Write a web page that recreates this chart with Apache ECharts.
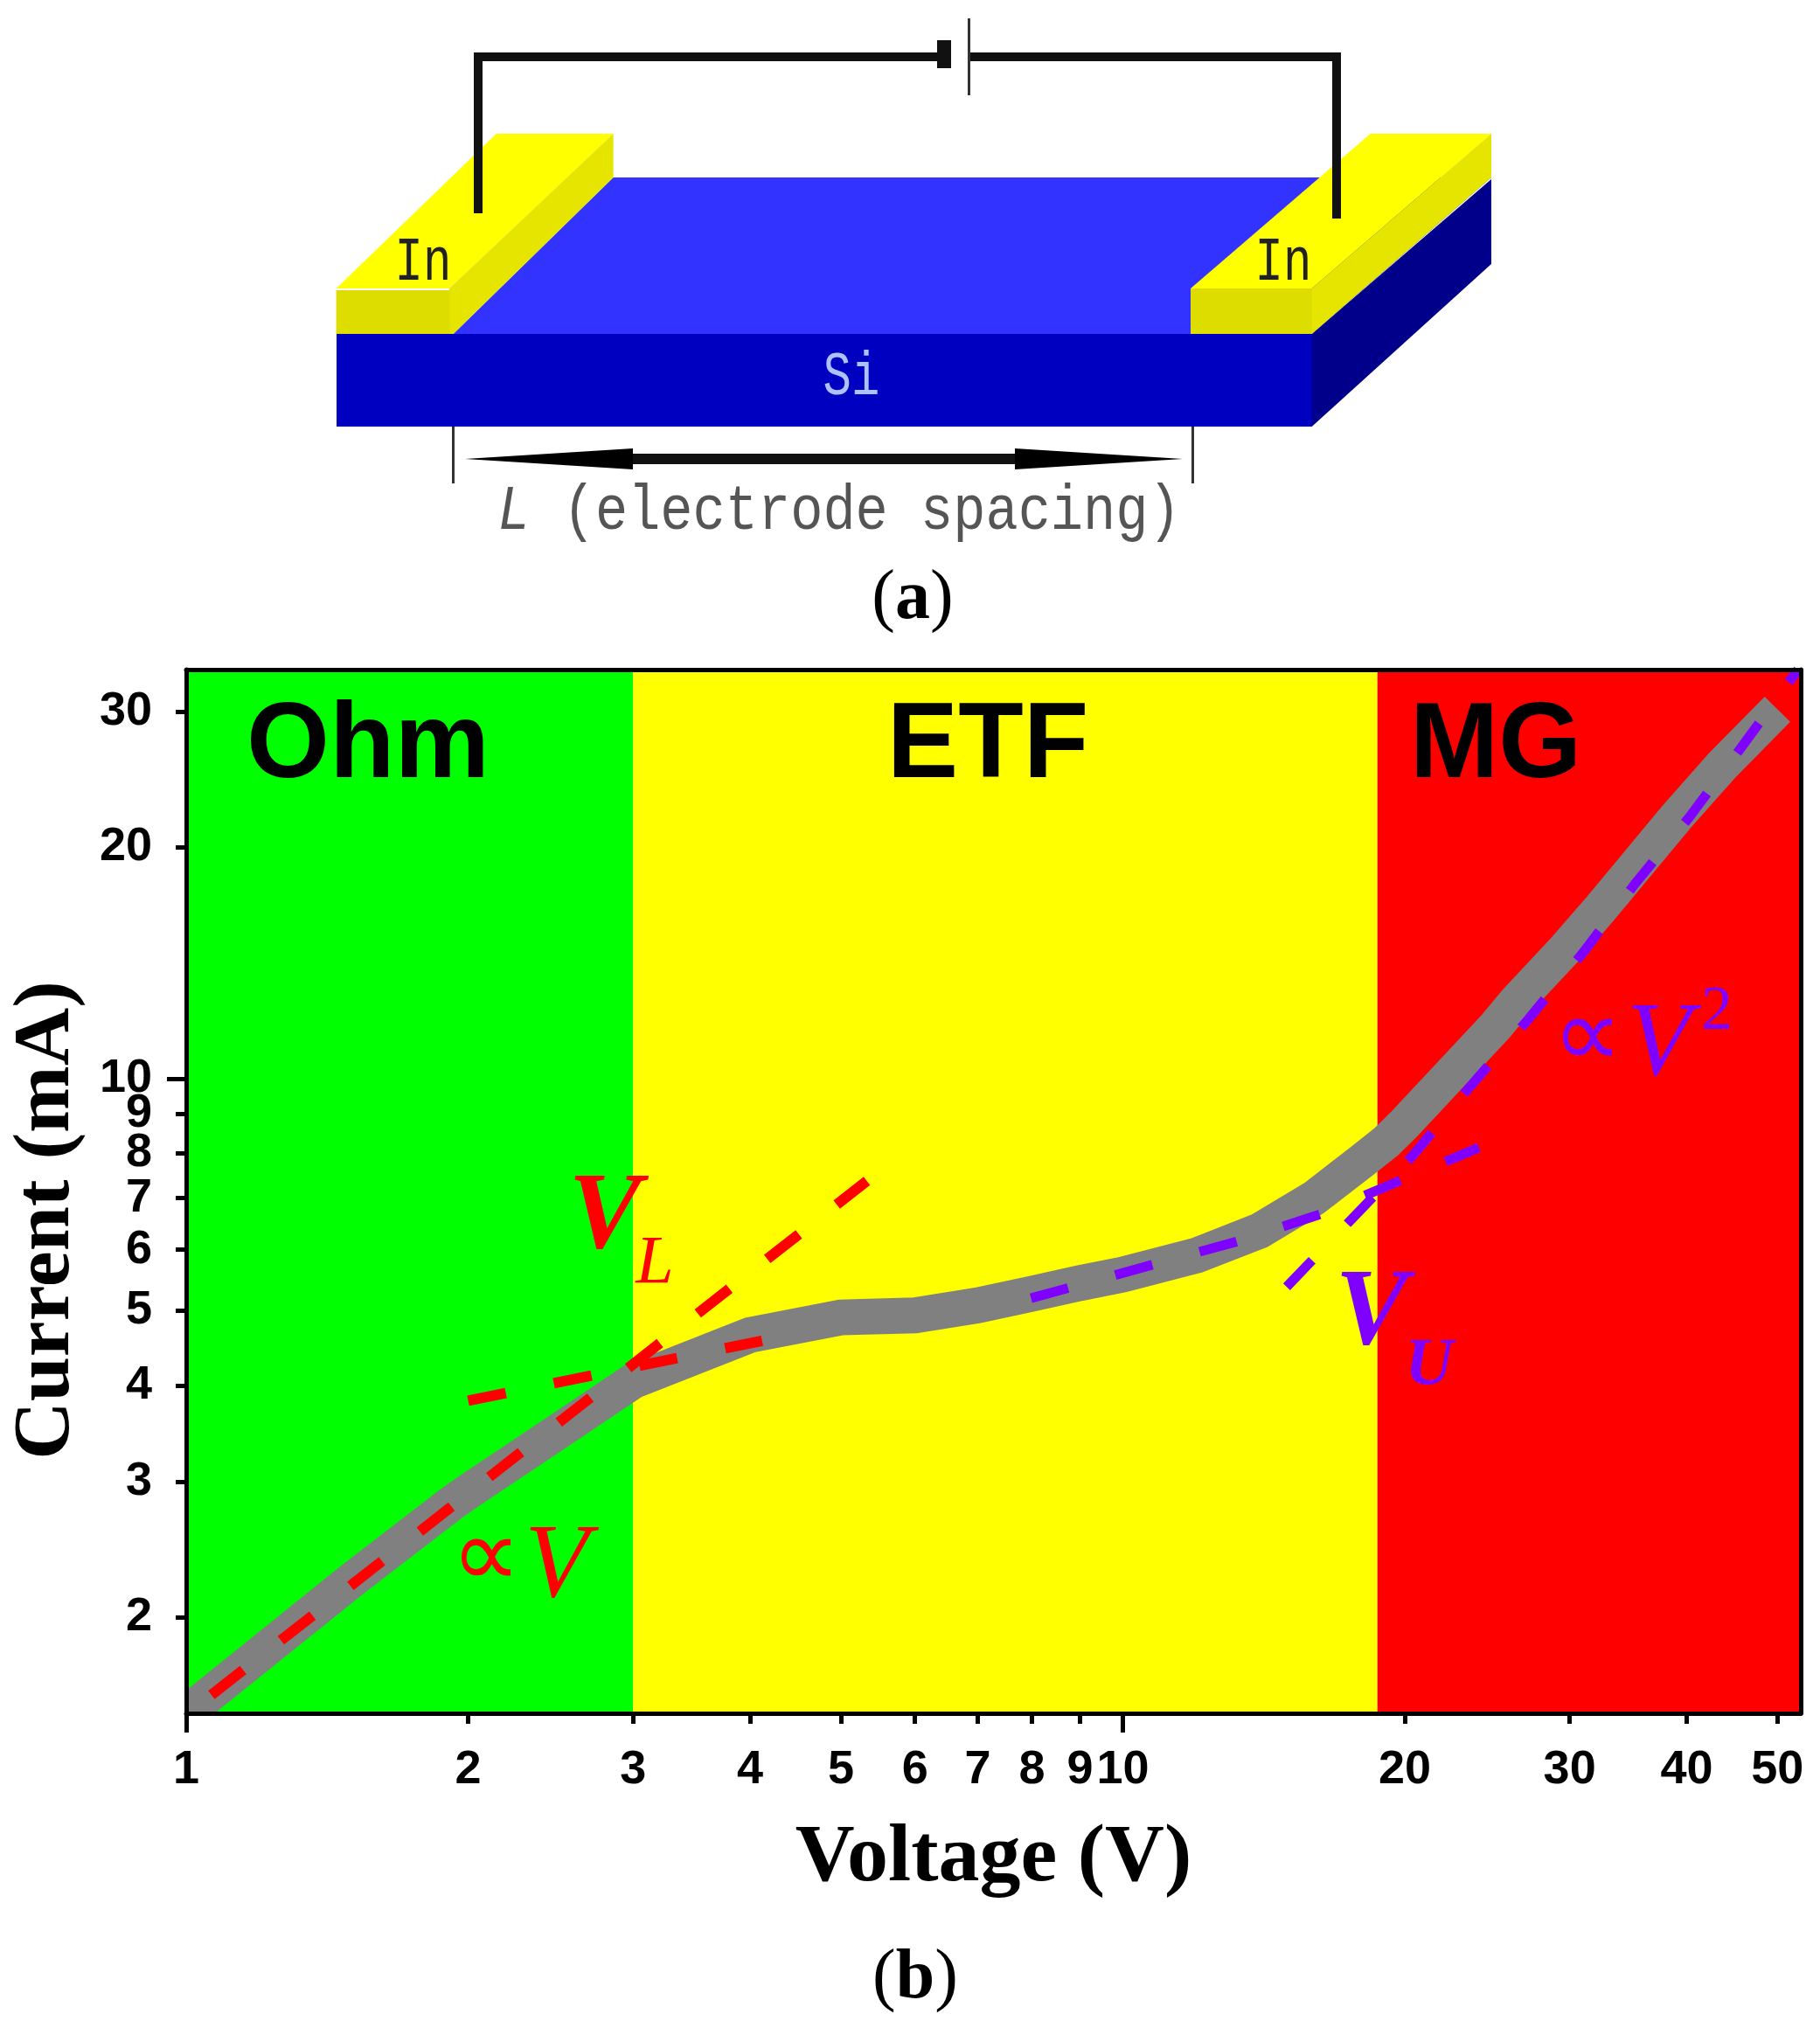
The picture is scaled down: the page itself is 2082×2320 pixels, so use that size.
<!DOCTYPE html>
<html><head><meta charset="utf-8">
<style>html,body{margin:0;padding:0;background:#fff}#c{width:2082px;height:2320px}</style>
<script src="https://cdn.jsdelivr.net/npm/echarts@6/dist/echarts.min.js"></script>
</head><body><div id="c"></div>
<script>
const xTickValues=[1,2,3,4,5,6,7,8,9,10,20,30,40,50];
const yTickValues=[2,3,4,5,6,7,8,9,10,20,30];
const xMajor=[1,10];
const yMajor=[10];
const xRange=[1,52.95];
const yRange=[1.5,34];
const regionBounds=[1,3,18.7,52.95];
const regionNames=['Ohm','ETF','MG'];
const regionColors=['#00FF00','#FFFF00','#FF0000'];
const measured=[[0.9,1.35],[1,1.5],[1.5,2.23],[1.92,2.81],[2,2.91],[2.5,3.49],[3,4.05],[4,4.65],[5,4.9],[6,4.93],[7,5.08],[8,5.26],[9,5.43],[10,5.57],[12,5.9],[14,6.35],[16,7.0],[18,7.82],[19.1,8.28],[20,8.75],[25,11.7],[26.3,12.6],[29.7,14.76],[32.3,16.6],[38.9,21.8],[43.6,25.5],[50,30.2]];
const ohmFit=[[1.064,1.585],[5.33,7.37]];
const etfFitLow=[[2,3.82],[4.12,4.57]];
const etfFitHigh=[[7.98,5.19],[13.25,6.15],[16.3,6.68],[19.9,7.4],[24,8.14]];
const squareFit=[[14.96,5.37],[20.4,7.95],[23.4,9.72],[27.1,11.95],[31.1,14.65],[35.2,17.9],[40.3,21.9],[45.5,26.7],[52.6,34]];

const serif='"Liberation Serif","Times New Roman",serif';
const sans='"Liberation Sans",Arial,sans-serif';
const mono='"Liberation Mono",monospace';
const RED='#FF0000',PURPLE='#8000FF';

function poly(points,fill){return {type:'polygon',silent:true,shape:{points},style:{fill}};}
function rect(x,y,w,h,fill){return {type:'rect',silent:true,shape:{x,y,width:w,height:h},style:{fill}};}
function label(text,x,y,font,fill,extra){return Object.assign({type:'text',silent:true,x,y,z:100,style:{text,font,fill,align:'center',verticalAlign:'middle'}},extra||{});}

const diagram=[
  rect(385,382,1116,106,'#0000C0'),
  poly([[1500.7,382],[1706,205],[1706,302],[1500.7,488]],'#00008B'),
  poly([[518.6,382],[701.6,203],[1706,203],[1500.7,382]],'#3333FF'),
  poly([[384.6,330],[567.7,153],[701.6,153],[514,330]],'#FFFF00'),
  poly([[514,330],[701.6,153],[701.6,203],[518.6,382],[514,382]],'#E5E500'),
  rect(384.6,332,130,50,'#DDDD00'),
  poly([[1362,330],[1567.7,153],[1706,153],[1500.7,330]],'#FFFF00'),
  poly([[1500.7,330],[1706,153],[1706,203],[1500.7,382]],'#E5E500'),
  rect(1362,330,139,52,'#DDDD00'),
  rect(542,60,538,10,'#111'),
  rect(1108,60,426,10,'#111'),
  rect(542,60,10,184,'#111'),
  rect(1524,60,10,190,'#111'),
  rect(1072,46,16,32,'#111'),
  rect(1107,21,3,88,'#333'),
  rect(517,488,3,65,'#333'),
  rect(1363,488,3,65,'#333'),
  rect(724,519,437,12,'#111'),
  poly([[532,525],[724,513],[724,537]],'#000'),
  poly([[1353,525],[1161,513],[1161,537]],'#000'),
  label('In',484,301,'54px '+mono,'#222',{scaleY:1.3}),
  label('In',1468,301,'54px '+mono,'#222',{scaleY:1.3}),
  label('Si',974,432,'54px '+mono,'#AFC0FF',{scaleY:1.3}),
  {type:'text',silent:true,x:960,y:586,z:100,scaleY:1.15,style:{text:'{i|L} (electrode spacing)',font:'62px '+mono,fill:'#555',align:'center',verticalAlign:'middle',rich:{i:{font:'italic 62px '+mono,fill:'#555'}}}}
];
const captions=[
  {type:'text',silent:true,x:1044,y:686,style:{text:'{p|(}{b|a}{p|)}',align:'center',verticalAlign:'middle',rich:{p:{font:'80px '+serif,fill:'#000'},b:{font:'bold 80px '+serif,fill:'#000'}}}},
  {type:'text',silent:true,x:1047,y:2264,style:{text:'{p|(}{b|b}{p|)}',align:'center',verticalAlign:'middle',rich:{p:{font:'80px '+serif,fill:'#000'},b:{font:'bold 80px '+serif,fill:'#000'}}}}
];
const plotText=[
  label(regionNames[0],421,855,'bold 122px '+sans,'#000'),
  label(regionNames[1],1130,855,'bold 122px '+sans,'#000'),
  label(regionNames[2],1711,855,'bold 122px '+sans,'#000'),
  label('V',692,1395,'italic bold 125px '+serif,RED),
  label('L',749,1446,'italic 78px '+serif,RED),
  label('∝',556,1786,'112px '+serif,RED),
  label('V',637,1794,'italic 120px '+serif,RED),
  label('V',1569,1505,'italic bold 125px '+serif,PURPLE),
  label('U',1635,1563,'italic bold 76px '+serif,PURPLE),
  label('∝',1816,1191,'112px '+serif,PURPLE),
  label('V',1898,1197,'italic 120px '+serif,PURPLE),
  label('2',1964,1158,'72px '+serif,PURPLE)
];
// the library lets a thick line spill half its width past the grid; white strips trim that overflow, under the axes
const trims=[
  Object.assign(rect(150,1880,63,140,'#fff'),{z:8}),
  Object.assign(rect(150,1960,150,60,'#fff'),{z:8})
];

function dashed(name,data,color,w,dash){
  return {name,type:'line',data,showSymbol:false,silent:true,z:5,clip:true,animation:false,
    lineStyle:{color,width:w,type:dash,cap:'butt'}};
}
const axisLine={show:true,lineStyle:{color:'#000',width:5}};
const tickStyle={color:'#000',width:5};
const tickFont={fontFamily:sans,fontWeight:'bold',fontSize:54,color:'#000'};

const chart=echarts.init(document.getElementById('c'),null,{renderer:'canvas'});
chart.setOption({
  animation:false,backgroundColor:'#fff',
  grid:{left:213,top:766,width:1847,height:1194,containLabel:false,outerBoundsMode:'none'},
  xAxis:[
    {type:'log',logBase:10,min:xRange[0],max:xRange[1],position:'bottom',z:10,
     name:'Voltage (V)',nameLocation:'middle',nameGap:120,
     nameTextStyle:{fontFamily:serif,fontWeight:'bold',fontSize:94,color:'#000'},
     axisLine,axisTick:{show:true,length:12,lineStyle:tickStyle,customValues:xTickValues},
     axisLabel:Object.assign({margin:38,customValues:xTickValues,hideOverlap:false,showMinLabel:true,showMaxLabel:true,formatter:v=>String(Math.round(v))},tickFont),
     splitLine:{show:false},minorTick:{show:false}},
    {type:'log',logBase:10,min:xRange[0],max:xRange[1],position:'bottom',z:10,
     axisLine:{show:false},axisTick:{show:true,length:22,lineStyle:tickStyle,customValues:xMajor},axisLabel:{show:false},splitLine:{show:false}},
    {type:'log',logBase:10,min:xRange[0],max:xRange[1],position:'top',z:10,
     axisLine,axisTick:{show:false},axisLabel:{show:false},splitLine:{show:false}}
  ],
  yAxis:[
    {type:'log',logBase:10,min:yRange[0],max:yRange[1],position:'left',z:10,
     name:'Current (mA)',nameLocation:'middle',nameGap:113,nameRotate:90,
     nameTextStyle:{fontFamily:serif,fontWeight:'bold',fontSize:92,color:'#000',padding:[0,66,0,0]},
     axisLine,axisTick:{show:true,length:12,lineStyle:tickStyle,customValues:yTickValues},
     axisLabel:Object.assign({margin:39,customValues:yTickValues,hideOverlap:false,formatter:v=>String(Math.round(v))},tickFont),
     splitLine:{show:false}},
    {type:'log',logBase:10,min:yRange[0],max:yRange[1],position:'left',z:10,
     axisLine:{show:false},axisTick:{show:true,length:22,lineStyle:tickStyle,customValues:yMajor},axisLabel:{show:false},splitLine:{show:false}},
    {type:'log',logBase:10,min:yRange[0],max:yRange[1],position:'right',z:10,
     axisLine,axisTick:{show:false},axisLabel:{show:false},splitLine:{show:false}}
  ],
  series:[
    {name:'I-V',type:'line',data:measured,showSymbol:false,silent:true,z:3,clip:true,
     lineStyle:{color:'#808080',width:41,join:'miter',miterLimit:10,cap:'butt'},
     markArea:{silent:true,z:1,data:regionColors.map((c,i)=>[{xAxis:regionBounds[i],yAxis:yRange[0],itemStyle:{color:c,opacity:1}},{xAxis:regionBounds[i+1],yAxis:yRange[1]}])}},
    dashed('Ohm fit',ohmFit,RED,12,[46,55]),
    dashed('ETF low',etfFitLow,RED,12,[44,56]),
    dashed('ETF high',etfFitHigh,PURPLE,11,[44,56]),
    dashed('V2 fit',squareFit,PURPLE,11,[42,58])
  ],
  graphic:{elements:[...diagram,...captions,...trims,...plotText]}
});
</script></body></html>
